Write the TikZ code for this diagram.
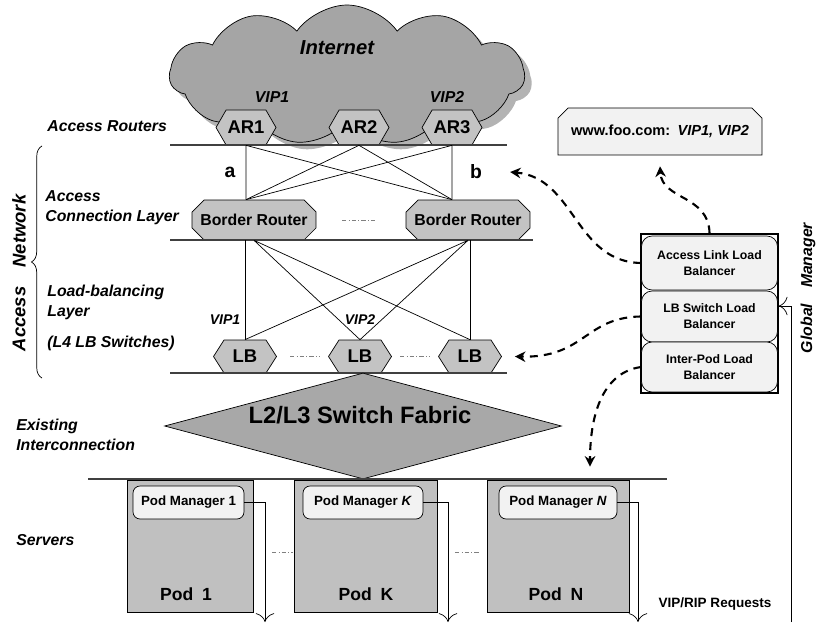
\documentclass[tikz,border=0pt]{standalone}
\usepackage{fontspec}
\setmainfont{Liberation Sans}
\usetikzlibrary{shapes.geometric,shapes.symbols,shapes.misc,shadows,arrows.meta,decorations.pathreplacing}
\definecolor{cloudgray}{RGB}{165,165,165}
\definecolor{hexgray}{RGB}{195,195,195}
\definecolor{podgray}{RGB}{192,192,192}
\definecolor{fabricgray}{RGB}{168,168,168}
\definecolor{boxgray}{RGB}{242,242,242}
\begin{document}
\begin{tikzpicture}[x=0.02cm,y=-0.02cm,
  lbl/.style={font=\bfseries\itshape\fontsize{9}{11.3}\selectfont,align=left,anchor=west,inner sep=0pt},
  side/.style={font=\bfseries\itshape\fontsize{10.5}{12}\selectfont,rotate=90,inner sep=0pt},
  vip/.style={font=\bfseries\itshape\fontsize{9}{10}\selectfont,inner sep=0pt},
  hexa/.style={signal,signal to=west and east,signal pointer angle=120,draw,fill=hexgray,inner sep=0pt,
    minimum width=1.2cm,minimum height=0.7cm,font=\bfseries\fontsize{10.5}{12}\selectfont},
  lbnode/.style={hexa,signal pointer angle=115,minimum width=1.26cm,minimum height=0.66cm},
  brnode/.style={chamfered rectangle,chamfered rectangle xsep=0.24cm,draw,fill=hexgray,inner sep=0pt,
    minimum width=2.48cm,minimum height=0.8cm,font=\bfseries\fontsize{9}{11}\selectfont},
  shelf/.style={black!75,line width=0.6pt},
  link/.style={line width=0.4pt},
  dots/.style={gray,dash pattern=on 2.5pt off 1.2pt on 0.6pt off 1.2pt},
  ctrl/.style={-{Stealth[length=6pt,width=6pt]},dash pattern=on 4.5pt off 3.5pt,line width=1.2pt},
  podbox/.style={draw,fill=podgray,minimum height=2.64cm,inner sep=0pt},
  podname/.style={font=\bfseries\fontsize{10}{12}\selectfont,inner sep=0pt},
  pmbox/.style={draw,fill=boxgray,rounded corners=4pt,minimum height=0.66cm,inner sep=0pt,
    font=\bfseries\fontsize{7.6}{9}\selectfont},
  gmbox/.style={draw,fill=boxgray,rounded corners=6pt,minimum width=2.72cm,inner sep=0pt,align=center,
    font=\bfseries\fontsize{7}{9}\selectfont},
  req/.style={-{To[length=5pt]},line width=0.4pt}]
\useasboundingbox (0,0) rectangle (820,624);
% 互联网
\node[cloud,cloud puffs=11,cloud puff arc=110,aspect=2.5,draw,fill=cloudgray,
  minimum width=7.1cm,minimum height=2.8cm,inner sep=0pt,
  drop shadow={shadow xshift=4pt,shadow yshift=-4pt,opacity=0.6}] (net) at (347,75) {};
\node[font=\bfseries\itshape\fontsize{11.5}{13}\selectfont] (netlbl) at (337,48) {Internet};
\node[vip] (vipa) at (272,97) {VIP1};
\node[vip] (vipb) at (447,97) {VIP2};
% 接入路由器
\node[hexa] (ar1) at (246,127.5) {AR1};
\node[hexa] (ar2) at (359,127.5) {AR2};
\node[hexa] (ar3) at (452,127.5) {AR3};
\node[lbl] (arlbl) at (47,126) {Access Routers};
\draw[shelf] (170,145) -- (507,145);
% 边界路由器
\node[brnode] (br1) at (254,220) {Border Router};
\node[brnode] (br2) at (468,220) {Border Router};
\draw[dots] (342,220) -- (375,220);
\coordinate (pa) at (br1.north -| ar1.south);
\coordinate (pb) at (br2.north -| ar3.south);
\foreach \r in {ar1,ar2,ar3}
  \draw[link] (\r.south) -- (pa) (\r.south) -- (pb);
\node[font=\bfseries\fontsize{11}{12}\selectfont] (lbla) at (230,172) {a};
\node[font=\bfseries\fontsize{11}{12}\selectfont] (lblb) at (476,172) {b};
\node[lbl] (acl) at (45,208) {Access\\Connection Layer};
\draw[shelf] (170,240) -- (533,240);
% 负载均衡交换机
\node[lbnode] (lb1) at (245,356.5) {LB};
\node[lbnode] (lb2) at (360,356.5) {LB};
\node[lbnode] (lb3) at (470,356.5) {LB};
\draw[dots] (290,356) -- (320,356);
\draw[dots] (400,356) -- (430,356);
\draw[link] (br1.south -| lb1.north) -- (lb1.north);
\draw[link] (br2.south -| lb3.north) -- (lb3.north);
\draw[link] (br1.south) -- (lb2.north) (br1.south) -- (lb3.north);
\draw[link] (br2.south) -- (lb1.north) (br2.south) -- (lb2.north);
\node[vip,font=\bfseries\itshape\fontsize{8}{9}\selectfont] (vipc) at (225,320) {VIP1};
\node[vip,font=\bfseries\itshape\fontsize{8}{9}\selectfont] (vipd) at (360,320) {VIP2};
\node[lbl] (lbl) at (47,302.5) {Load-balancing\\Layer};
\node[lbl] (lbsw) at (47,343) {(L4 LB Switches)};
\draw[shelf] (170,373) -- (507,373);
\draw[decorate,decoration={brace,amplitude=6pt}] (42,378) -- (42,146);
\node[side] (sidea) at (19,231) {Network};
\node[side] (sideb) at (19,319) {Access};
% 交换结构
\node[diamond,draw,fill=fabricgray,inner sep=0pt,aspect=3.75,minimum width=7.94cm,minimum height=2.12cm] (fab) at (363,426) {};
\node[font=\bfseries\fontsize{13.5}{15}\selectfont] (fablbl) at (360,415) {L2/L3 Switch Fabric};
\node[lbl] (exist) at (16,435) {Existing\\Interconnection};
\draw[shelf] (88,479) -- (667,479);
% 服务器池
\node[podbox,minimum width=2.52cm] (pod1) at (190,546) {};
\node[podbox,minimum width=2.86cm] (podk) at (365.5,546) {};
\node[podbox,minimum width=2.84cm] (podn) at (558,546) {};
\node[pmbox,minimum width=2.22cm] (pm1) at (188.5,502.5) {Pod Manager 1};
\node[pmbox,minimum width=2.4cm] (pmk) at (363,502.5) {Pod Manager \textit{K}};
\node[pmbox,minimum width=2.36cm] (pmn) at (558,502.5) {Pod Manager \textit{N}};
\node[podname] (pod1lbl) at (186,594) {Pod\enspace 1};
\node[podname] (podklbl) at (366,594) {Pod\enspace K};
\node[podname] (podnlbl) at (556,594) {Pod\enspace N};
\draw[dots] (272,552) -- (293,552);
\draw[dots] (455,552) -- (480,552);
\node[lbl] (srv) at (16,540) {Servers};
\coordinate (r1) at (265,622);
\coordinate (rk) at (448,622);
\coordinate (rn) at (638,622);
\draw[req] (pm1.east) -| (r1);
\draw[req] (pmk.east) -| (rk);
\draw[req] (pmn.east) -| (rn);
\node[font=\bfseries\fontsize{7.7}{9}\selectfont] (reqlbl) at (715,604) {VIP/RIP Requests};
% 全局管理器
\node[draw,line width=0.8pt,minimum width=2.74cm,minimum height=3.18cm,inner sep=0pt] (gm) at (709.5,313.5) {};
\node[gmbox,minimum height=1.08cm] (alb) at (709.5,263) {Access Link Load\\Balancer};
\node[gmbox,minimum height=1.02cm] (lbs) at (709.5,316.5) {LB Switch Load\\Balancer};
\node[gmbox,minimum height=1.0cm] (ipl) at (709.5,367) {Inter-Pod Load\\Balancer};
\node[font=\bfseries\itshape\fontsize{9}{10}\selectfont,rotate=90,inner sep=0pt] (gmlbl) at (808,288) {Global\quad Manager};
\node[chamfered rectangle,chamfered rectangle corners={north west,north east},chamfered rectangle xsep=0.08cm,
  draw,fill=boxgray,minimum width=4.08cm,minimum height=0.94cm,inner sep=0pt,
  font=\bfseries\fontsize{8.3}{10}\selectfont] (www) at (660,131.5) {www.foo.com:\enspace\textit{VIP1, VIP2}};
\coordinate (gmin) at (791,622);
\coordinate (gmturn) at (791,306);
\draw[req] (gmin) -- (gmturn) -- (gmturn -| gm.east);
\draw[ctrl] (alb.west) .. controls (575,262) and (575,178) .. ([xshift=0.44cm]lblb.east);
\draw[ctrl] (gm.north) .. controls (709,195) and (662,200) .. ([yshift=-0.22cm]www.south);
\draw[ctrl] (lbs.west) .. controls (585,317) and (585,358) .. ([xshift=0.26cm]lb3.east);
\draw[ctrl] (ipl.west) .. controls (605,372) and (590,410) .. ([xshift=0.64cm,yshift=0.26cm]podn.north);
\end{tikzpicture}
\end{document}
